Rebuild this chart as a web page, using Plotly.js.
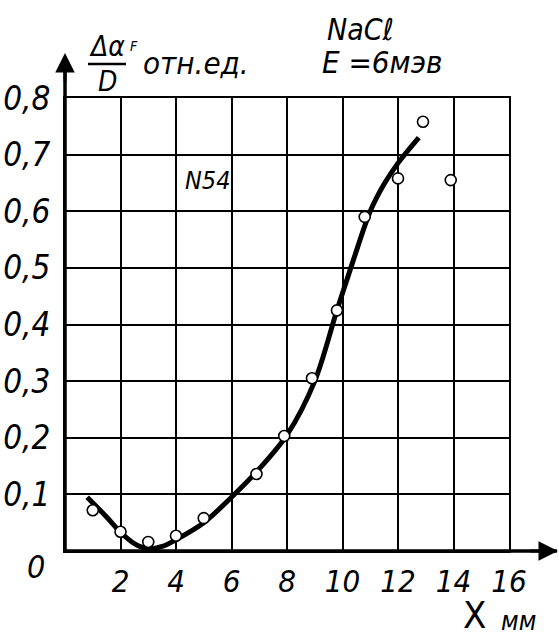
<!DOCTYPE html>
<html>
<head>
<meta charset="utf-8">
<script src="https://cdn.plot.ly/plotly-3.0.1.min.js"></script>
<style>html,body{margin:0;padding:0;background:#fff;}#chart{width:559px;height:639px;}</style>
</head>
<body>
<div id="chart"></div>
<script>
// ---- data ----
const xTickVals = [2, 4, 6, 8, 10, 12, 14, 16];
const xTickText = ["2", "4", "6", "8", "10", "12", "14", "16"];
const yTickVals = [0.1, 0.2, 0.3, 0.4, 0.5, 0.6, 0.7, 0.8];
const yTickText = ["0,1", "0,2", "0,3", "0,4", "0,5", "0,6", "0,7", "0,8"];
const pointX = [1, 2, 3, 4, 5, 6.9, 7.9, 8.9, 9.8, 10.8, 12, 12.9, 13.9];
const pointY = [0.072, 0.034, 0.016, 0.027, 0.058, 0.136, 0.203, 0.305, 0.425, 0.59, 0.658, 0.758, 0.655];
const curveX = [0.8, 1.5, 2, 2.5, 3, 3.5, 4, 5, 6, 7, 8, 9, 9.8, 10.4, 11, 11.5, 12, 12.75];
const curveY = [0.095, 0.06, 0.033, 0.013, 0.004, 0.008, 0.02, 0.05, 0.095, 0.145, 0.205, 0.3, 0.425, 0.515, 0.6, 0.648, 0.685, 0.73];

// ---- layout helpers ----
const L = 65, R = 509, T = 98, B = 551;
function P(px, py) {
  return {x: (px - L) / (R - L), y: (B - py) / (B - T), xref: 'paper', yref: 'paper'};
}
const FONT = "'Liberation Sans Narrow', 'DejaVu Sans Condensed', 'DejaVu Sans', sans-serif";
function txt(px, py, text, size, extra) {
  return Object.assign(P(px, py), {
    text: text, showarrow: false, xanchor: 'center', yanchor: 'middle',
    font: {family: FONT, size: size, color: '#000', style: 'italic'}
  }, extra || {});
}

const traces = [
  {x: curveX, y: curveY, mode: 'lines', line: {color: '#000', width: 5, shape: 'spline', smoothing: 0.9},
   hoverinfo: 'skip', cliponaxis: false},
  {x: pointX, y: pointY, mode: 'markers', cliponaxis: false,
   marker: {symbol: 'circle', size: 11, color: '#fff', line: {color: '#000', width: 1.6}}}
];

const yAxisTop = P(L, 58), xAxisEnd = P(557, B);
const layout = {
  width: 559, height: 639,
  margin: {l: L, r: 559 - R, t: T, b: 639 - B, pad: 0},
  paper_bgcolor: '#fff', plot_bgcolor: '#fff',
  showlegend: false,
  xaxis: {range: [0, 16], tickvals: xTickVals, ticktext: xTickText, ticks: '',
          showgrid: true, gridcolor: '#000', gridwidth: 2, zeroline: false,
          showline: true, mirror: true, linecolor: '#000', linewidth: 2,
          ticklabelstandoff: 2,
          tickfont: {family: FONT, size: 31, color: '#000', style: 'italic'}},
  yaxis: {range: [0, 0.8], tickvals: yTickVals, ticktext: yTickText, ticks: '',
          showgrid: true, gridcolor: '#000', gridwidth: 2, zeroline: false,
          showline: true, mirror: true, linecolor: '#000', linewidth: 2,
          ticklabelstandoff: 6,
          tickfont: {family: FONT, size: 33, color: '#000', style: 'italic'}},
  shapes: [
    {type: 'line', xref: 'paper', yref: 'paper', x0: 0, x1: 0, y0: 0, y1: yAxisTop.y, line: {color: '#000', width: 3.5}},
    {type: 'line', xref: 'paper', yref: 'paper', x0: 0, x1: xAxisEnd.x, y0: 0, y1: 0, line: {color: '#000', width: 3.5}},
    // fraction bar of the y title
    {type: 'line', xref: 'paper', yref: 'paper', x0: P(88, 0).x, x1: P(126, 0).x, y0: P(0, 64).y, y1: P(0, 64).y, line: {color: '#000', width: 2.5}}
  ],
  annotations: [
    Object.assign(P(L, 53), {showarrow: true, arrowhead: 2, arrowsize: 1.3, arrowwidth: 3, arrowcolor: '#000',
      axref: 'pixel', ayref: 'pixel', ax: 0, ay: 30, text: ''}),
    Object.assign(P(559, B), {showarrow: true, arrowhead: 2, arrowsize: 1.3, arrowwidth: 3, arrowcolor: '#000',
      axref: 'pixel', ayref: 'pixel', ax: -30, ay: 0, text: ''}),
    txt(107, 46, 'Δα', 28),
    txt(134, 46, 'F', 14),
    txt(107, 81, 'D', 28),
    txt(196, 63, 'отн.ед.', 31),
    txt(360, 30, 'NaCℓ', 30),
    txt(382, 62, 'E =6мэв', 31),
    txt(207, 180, 'N54', 25),
    txt(36, 567, '0', 32),
    txt(474, 615, 'X', 38, {font: {family: FONT, size: 38, color: '#000'}}),
    txt(518, 621, 'мм', 26)
  ]
};

Plotly.newPlot('chart', traces, layout, {staticPlot: true, displayModeBar: false});
</script>
</body>
</html>
